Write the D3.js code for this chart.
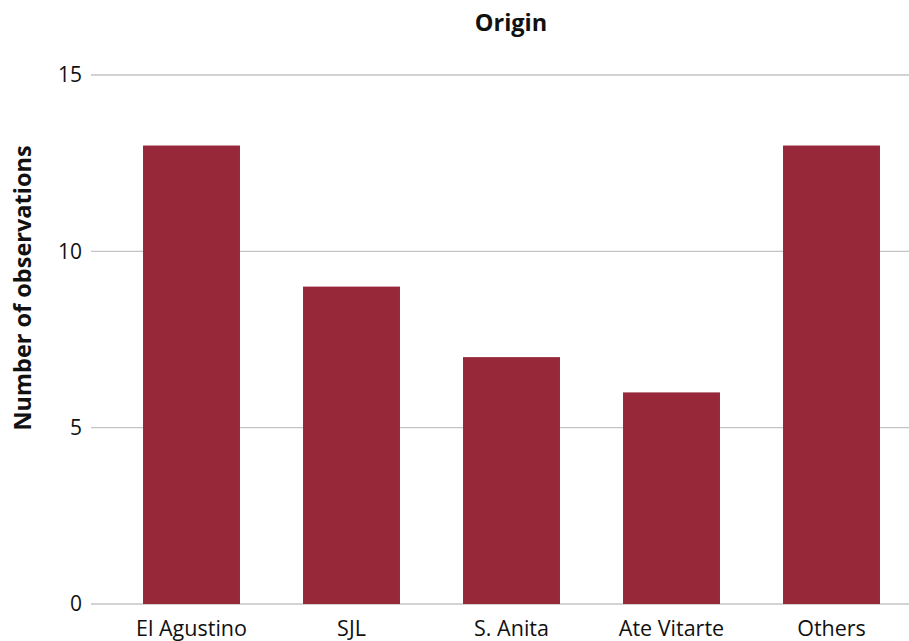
<!DOCTYPE html>
<html>
<head>
<meta charset="utf-8">
<script src="https://cdn.jsdelivr.net/npm/d3@7"></script>
<style>
  body { margin: 0; background: #fff; }
  text { font-family: "Open Sans", "Noto Sans", sans-serif; fill: #111; }
</style>
</head>
<body>
<div id="chart"></div>
<script>
// data
var categories = ["El Agustino", "SJL", "S. Anita", "Ate Vitarte", "Others"];
var counts = [13, 9, 7, 6, 13];
var yTicks = [0, 5, 10, 15];

var width = 909, height = 641;

var svg = d3.select("#chart").append("svg")
    .attr("width", width)
    .attr("height", height);

var x = d3.scaleBand()
    .domain(categories)
    .range([111.5, 911.5])
    .paddingInner(0.394)
    .paddingOuter(0.197);

var y = d3.scaleLinear()
    .domain([0, 15])
    .range([604, 75]);

// grid lines
svg.selectAll(".grid")
    .data(yTicks)
    .enter().append("line")
    .attr("class", "grid")
    .attr("x1", 91)
    .attr("x2", width)
    .attr("y1", function(d) { return y(d); })
    .attr("y2", function(d) { return y(d); })
    .style("stroke", "#c4c4c4")
    .style("stroke-width", 1.3);

// y tick labels
svg.selectAll(".ytick")
    .data(yTicks)
    .enter().append("text")
    .attr("class", "ytick")
    .attr("x", 82)
    .attr("y", function(d) { return y(d); })
    .attr("dy", "0.35em")
    .attr("text-anchor", "end")
    .style("font-size", "21px")
    .text(function(d) { return d; });

// bars
svg.selectAll(".bar")
    .data(counts)
    .enter().append("rect")
    .attr("class", "bar")
    .attr("x", function(d, i) { return x(categories[i]); })
    .attr("width", x.bandwidth())
    .attr("y", function(d) { return y(d); })
    .attr("height", function(d) { return y(0) - y(d); })
    .style("fill", "#962839");

// x labels
svg.selectAll(".xlabel")
    .data(categories)
    .enter().append("text")
    .attr("class", "xlabel")
    .attr("x", function(d) { return x(d) + x.bandwidth() / 2; })
    .attr("y", 636)
    .attr("text-anchor", "middle")
    .style("font-size", "21.5px")
    .text(function(d) { return d; });

// title
svg.append("text")
    .attr("x", 511)
    .attr("y", 31)
    .attr("text-anchor", "middle")
    .style("font-size", "23.5px")
    .style("font-weight", "bold")
    .text("Origin");

// y axis title
svg.append("text")
    .attr("transform", "translate(31,288) rotate(-90)")
    .attr("text-anchor", "middle")
    .style("font-size", "23.5px")
    .style("font-weight", "bold")
    .text("Number of observations");
</script>
</body>
</html>
